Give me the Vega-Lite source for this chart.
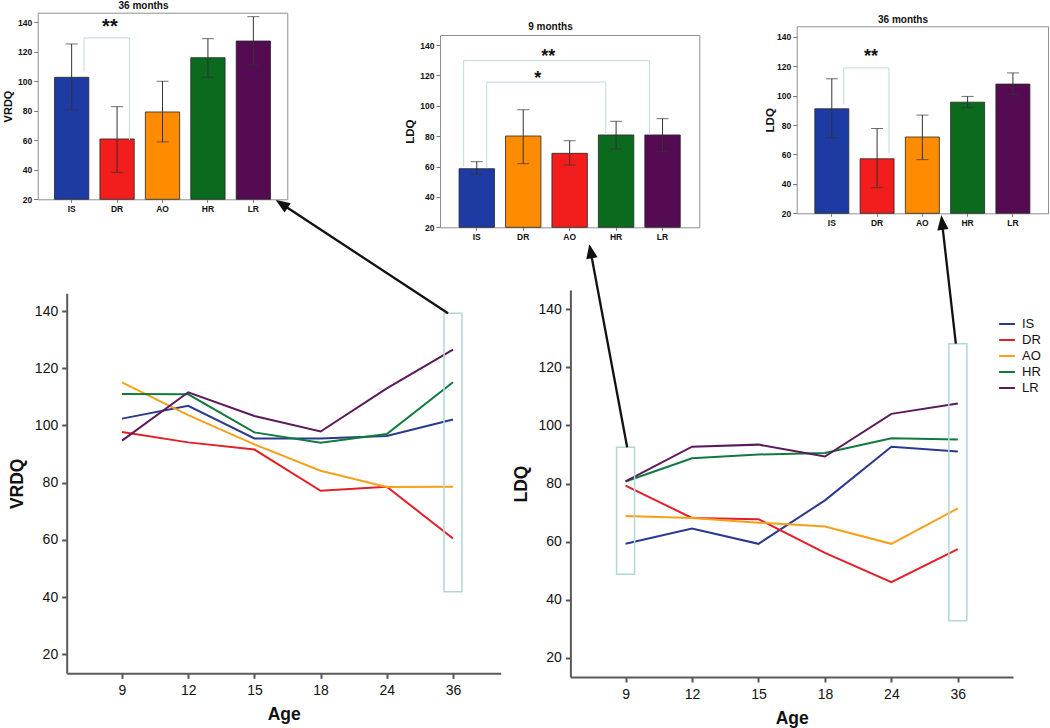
{
  "$schema": "https://vega.github.io/schema/vega-lite/v6.json",
  "width": 1050,
  "height": 728,
  "padding": 0,
  "autosize": {"type": "none"},
  "background": "white",
  "config": {"font": "Liberation Sans", "view": {"stroke": null}, "axis": {"grid": false}},
  "datasets": {
    "bars": [
      {"chart": "c1", "cat": "IS", "mean": 102.7, "lo": 80.6, "hi": 125.3},
      {"chart": "c1", "cat": "DR", "mean": 60.9, "lo": 38.3, "hi": 82.8},
      {"chart": "c1", "cat": "AO", "mean": 79.2, "lo": 58.9, "hi": 100.0},
      {"chart": "c1", "cat": "HR", "mean": 116.0, "lo": 102.7, "hi": 128.9},
      {"chart": "c1", "cat": "LR", "mean": 127.3, "lo": 111.1, "hi": 143.8},
      {"chart": "c2", "cat": "IS", "mean": 58.6, "lo": 54.9, "hi": 63.2},
      {"chart": "c2", "cat": "DR", "mean": 80.1, "lo": 61.9, "hi": 97.4},
      {"chart": "c2", "cat": "AO", "mean": 68.7, "lo": 61.0, "hi": 77.0},
      {"chart": "c2", "cat": "HR", "mean": 80.8, "lo": 71.5, "hi": 89.8},
      {"chart": "c2", "cat": "LR", "mean": 80.8, "lo": 69.8, "hi": 91.5},
      {"chart": "c3", "cat": "IS", "mean": 91.1, "lo": 71.4, "hi": 111.5},
      {"chart": "c3", "cat": "DR", "mean": 57.1, "lo": 37.4, "hi": 77.7},
      {"chart": "c3", "cat": "AO", "mean": 71.9, "lo": 56.5, "hi": 86.8},
      {"chart": "c3", "cat": "HR", "mean": 95.6, "lo": 91.8, "hi": 99.5},
      {"chart": "c3", "cat": "LR", "mean": 107.9, "lo": 100.8, "hi": 115.5}
    ],
    "brackets": [
      {"chart": "c1", "id": "s", "a": "IS", "b": "DR", "top": 129.4, "la": 106.6, "lb": 60.2},
      {"chart": "c2", "id": "dd", "a": "IS", "b": "LR", "top": 129.7, "la": 60.0, "lb": 81.0},
      {"chart": "c2", "id": "s", "a": "IS", "b": "HR", "top": 115.6, "la": 58.9, "lb": 80.8},
      {"chart": "c3", "id": "s", "a": "IS", "b": "DR", "top": 118.9, "la": 94.0, "lb": 60.8}
    ],
    "stars": [
      {"chart": "c1", "id": "dd", "cat": "DR", "y": 132.7, "label": "**"},
      {"chart": "c2", "id": "dd", "cat": "DR", "y": 128.8, "label": "**"},
      {"chart": "c2", "id": "s", "cat": "DR", "y": 114.6, "label": "*"},
      {"chart": "c3", "id": "dd", "cat": "DR", "y": 122.8, "label": "**"}
    ],
    "lines": [
      {"chart": "VRDQ", "group": "IS", "age": 9, "value": 102.4},
      {"chart": "VRDQ", "group": "IS", "age": 12, "value": 106.9},
      {"chart": "VRDQ", "group": "IS", "age": 15, "value": 95.5},
      {"chart": "VRDQ", "group": "IS", "age": 18, "value": 95.5},
      {"chart": "VRDQ", "group": "IS", "age": 24, "value": 96.3},
      {"chart": "VRDQ", "group": "IS", "age": 36, "value": 102.1},
      {"chart": "VRDQ", "group": "DR", "age": 9, "value": 97.7},
      {"chart": "VRDQ", "group": "DR", "age": 12, "value": 94.1},
      {"chart": "VRDQ", "group": "DR", "age": 15, "value": 91.6},
      {"chart": "VRDQ", "group": "DR", "age": 18, "value": 77.2},
      {"chart": "VRDQ", "group": "DR", "age": 24, "value": 78.6},
      {"chart": "VRDQ", "group": "DR", "age": 36, "value": 60.5},
      {"chart": "VRDQ", "group": "AO", "age": 9, "value": 115.1},
      {"chart": "VRDQ", "group": "AO", "age": 12, "value": 103.6},
      {"chart": "VRDQ", "group": "AO", "age": 15, "value": 93.4},
      {"chart": "VRDQ", "group": "AO", "age": 18, "value": 84.2},
      {"chart": "VRDQ", "group": "AO", "age": 24, "value": 78.5},
      {"chart": "VRDQ", "group": "AO", "age": 36, "value": 78.6},
      {"chart": "VRDQ", "group": "HR", "age": 9, "value": 111.0},
      {"chart": "VRDQ", "group": "HR", "age": 12, "value": 110.9},
      {"chart": "VRDQ", "group": "HR", "age": 15, "value": 97.6},
      {"chart": "VRDQ", "group": "HR", "age": 18, "value": 94.0},
      {"chart": "VRDQ", "group": "HR", "age": 24, "value": 97.0},
      {"chart": "VRDQ", "group": "HR", "age": 36, "value": 115.1},
      {"chart": "VRDQ", "group": "LR", "age": 9, "value": 94.7},
      {"chart": "VRDQ", "group": "LR", "age": 12, "value": 111.6},
      {"chart": "VRDQ", "group": "LR", "age": 15, "value": 103.3},
      {"chart": "VRDQ", "group": "LR", "age": 18, "value": 97.9},
      {"chart": "VRDQ", "group": "LR", "age": 24, "value": 113.0},
      {"chart": "VRDQ", "group": "LR", "age": 36, "value": 126.5},
      {"chart": "LDQ", "group": "IS", "age": 9, "value": 59.2},
      {"chart": "LDQ", "group": "IS", "age": 12, "value": 64.5},
      {"chart": "LDQ", "group": "IS", "age": 15, "value": 59.2},
      {"chart": "LDQ", "group": "IS", "age": 18, "value": 74.2},
      {"chart": "LDQ", "group": "IS", "age": 24, "value": 92.7},
      {"chart": "LDQ", "group": "IS", "age": 36, "value": 91.0},
      {"chart": "LDQ", "group": "DR", "age": 9, "value": 79.3},
      {"chart": "LDQ", "group": "DR", "age": 12, "value": 68.1},
      {"chart": "LDQ", "group": "DR", "age": 15, "value": 67.7},
      {"chart": "LDQ", "group": "DR", "age": 18, "value": 56.1},
      {"chart": "LDQ", "group": "DR", "age": 24, "value": 46.0},
      {"chart": "LDQ", "group": "DR", "age": 36, "value": 57.4},
      {"chart": "LDQ", "group": "AO", "age": 9, "value": 68.8},
      {"chart": "LDQ", "group": "AO", "age": 12, "value": 68.1},
      {"chart": "LDQ", "group": "AO", "age": 15, "value": 66.5},
      {"chart": "LDQ", "group": "AO", "age": 18, "value": 65.2},
      {"chart": "LDQ", "group": "AO", "age": 24, "value": 59.2},
      {"chart": "LDQ", "group": "AO", "age": 36, "value": 71.4},
      {"chart": "LDQ", "group": "HR", "age": 9, "value": 80.7},
      {"chart": "LDQ", "group": "HR", "age": 12, "value": 88.7},
      {"chart": "LDQ", "group": "HR", "age": 15, "value": 90.0},
      {"chart": "LDQ", "group": "HR", "age": 18, "value": 90.5},
      {"chart": "LDQ", "group": "HR", "age": 24, "value": 95.6},
      {"chart": "LDQ", "group": "HR", "age": 36, "value": 95.2},
      {"chart": "LDQ", "group": "LR", "age": 9, "value": 80.7},
      {"chart": "LDQ", "group": "LR", "age": 12, "value": 92.7},
      {"chart": "LDQ", "group": "LR", "age": 15, "value": 93.4},
      {"chart": "LDQ", "group": "LR", "age": 18, "value": 89.3},
      {"chart": "LDQ", "group": "LR", "age": 24, "value": 104.0},
      {"chart": "LDQ", "group": "LR", "age": 36, "value": 107.6}
    ],
    "boxes": [
      {"id": "L36", "age": 36, "lo": 41.9, "hi": 139.2},
      {"id": "R9", "age": 9, "lo": 48.7, "hi": 92.5},
      {"id": "R36", "age": 36, "lo": 32.7, "hi": 128.2}
    ]
  },
  "layer": [
    {
      "layer": [
        {
          "data": {"name": "bars"},
          "transform": [{"filter": "datum.chart == 'c1'"}],
          "mark": {"type": "bar", "stroke": "#262626", "strokeWidth": 0.8},
          "encoding": {
            "x": {"field": "cat", "type": "nominal", "scale": {"type": "band", "domain": ["IS", "DR", "AO", "HR", "LR"], "range": [37.7, 287.3], "paddingInner": 0.245, "paddingOuter": 0.37},
              "axis": {"orient": "bottom", "offset": -528.7, "title": null, "labelAngle": 0, "labelFontSize": 8.5, "labelFontWeight": "bold", "labelColor": "#111", "labelPadding": 2, "tickSize": 3, "tickColor": "#777", "domainColor": "#8f8f8f"}},
            "y": {"field": "mean", "type": "quantitative", "scale": {"domain": [20, 146.5], "range": [199.3, 12.7], "nice": false, "zero": false},
              "axis": {"orient": "left", "offset": -37.7, "values": [20, 40, 60, 80, 100, 120, 140], "title": "VRDQ", "titleFontSize": 11, "titleFontWeight": "bold", "titleColor": "#111", "titlePadding": 4, "labelFontSize": 8.5, "labelFontWeight": "bold", "labelColor": "#111", "labelPadding": 2, "tickSize": 4, "tickColor": "#777", "domainColor": "#8f8f8f"}},
            "y2": {"datum": 20},
            "color": {"field": "cat", "type": "nominal", "scale": {"domain": ["IS", "DR", "AO", "HR", "LR"], "range": ["#1d3ba3", "#f21d1d", "#ff8c00", "#0c6a1f", "#550b52"]}, "legend": null}
          }
        },
        {
          "data": {"name": "bars"},
          "transform": [{"filter": "datum.chart == 'c1'"}],
          "mark": {"type": "rule", "color": "#333", "strokeWidth": 1},
          "encoding": {
            "x": {"field": "cat", "type": "nominal", "axis": {"orient": "top", "offset": -12.7, "labels": false, "ticks": false, "domainColor": "#8f8f8f", "title": "36 months", "titleX": 143, "titleY": -7.7, "titleBaseline": "middle", "titleFontSize": 10, "titleFontWeight": "bold", "titleColor": "#111"}},
            "y": {"field": "lo", "type": "quantitative", "axis": {"orient": "right", "offset": -762.7, "labels": false, "ticks": false, "domainColor": "#8f8f8f", "title": null}},
            "y2": {"field": "hi"}
          }
        },
        {
          "data": {"name": "bars"},
          "transform": [{"filter": "datum.chart == 'c1'"}],
          "mark": {"type": "tick", "orient": "horizontal", "size": 12, "thickness": 1, "color": "#333"},
          "encoding": {"x": {"field": "cat", "type": "nominal", "axis": null}, "y": {"field": "lo", "type": "quantitative", "axis": null}}
        },
        {
          "data": {"name": "bars"},
          "transform": [{"filter": "datum.chart == 'c1'"}],
          "mark": {"type": "tick", "orient": "horizontal", "size": 12, "thickness": 1, "color": "#333"},
          "encoding": {"x": {"field": "cat", "type": "nominal", "axis": null}, "y": {"field": "hi", "type": "quantitative", "axis": null}}
        },
        {
          "data": {"name": "brackets"},
          "transform": [{"filter": "datum.chart == 'c1'"}],
          "mark": {"type": "rule", "color": "#bfdada", "strokeWidth": 1},
          "encoding": {"x": {"field": "a", "type": "nominal", "bandPosition": 0.86, "axis": null}, "x2": {"field": "b", "bandPosition": 0.86}, "y": {"field": "top", "type": "quantitative", "axis": null}}
        },
        {
          "data": {"name": "brackets"},
          "transform": [{"filter": "datum.chart == 'c1'"}],
          "mark": {"type": "rule", "color": "#bfdada", "strokeWidth": 1},
          "encoding": {"x": {"field": "a", "type": "nominal", "bandPosition": 0.86, "axis": null}, "y": {"field": "la", "type": "quantitative", "axis": null}, "y2": {"field": "top"}}
        },
        {
          "data": {"name": "brackets"},
          "transform": [{"filter": "datum.chart == 'c1'"}],
          "mark": {"type": "rule", "color": "#bfdada", "strokeWidth": 1},
          "encoding": {"x": {"field": "b", "type": "nominal", "bandPosition": 0.86, "axis": null}, "y": {"field": "lb", "type": "quantitative", "axis": null}, "y2": {"field": "top"}}
        },
        {
          "data": {"name": "stars"},
          "transform": [{"filter": "datum.chart == 'c1'"}],
          "mark": {"type": "text", "fontSize": 20, "fontWeight": "bold", "align": "center", "baseline": "alphabetic", "color": "#111"},
          "encoding": {"x": {"field": "cat", "type": "nominal", "bandPosition": 0.29, "axis": null}, "y": {"field": "y", "type": "quantitative", "axis": null}, "text": {"field": "label"}}
        }
      ],
      "resolve": {"axis": {"x": "independent", "y": "independent"}}
    },
    {
      "layer": [
        {
          "data": {"name": "bars"},
          "transform": [{"filter": "datum.chart == 'c2'"}],
          "mark": {"type": "bar", "stroke": "#262626", "strokeWidth": 0.8},
          "encoding": {
            "x": {"field": "cat", "type": "nominal", "scale": {"type": "band", "domain": ["IS", "DR", "AO", "HR", "LR"], "range": [440, 699.3], "paddingInner": 0.237, "paddingOuter": 0.41},
              "axis": {"orient": "bottom", "offset": -500.7, "title": null, "labelAngle": 0, "labelFontSize": 8.5, "labelFontWeight": "bold", "labelColor": "#111", "labelPadding": 2, "tickSize": 3, "tickColor": "#777", "domainColor": "#8f8f8f"}},
            "y": {"field": "mean", "type": "quantitative", "scale": {"domain": [20, 146.6], "range": [227.3, 35], "nice": false, "zero": false},
              "axis": {"orient": "left", "offset": -440, "values": [20, 40, 60, 80, 100, 120, 140], "title": "LDQ", "titleFontSize": 11.5, "titleFontWeight": "bold", "titleColor": "#111", "titlePadding": 4, "labelFontSize": 8.5, "labelFontWeight": "bold", "labelColor": "#111", "labelPadding": 2, "tickSize": 4, "tickColor": "#777", "domainColor": "#8f8f8f"}},
            "y2": {"datum": 20},
            "color": {"field": "cat", "type": "nominal", "scale": {"domain": ["IS", "DR", "AO", "HR", "LR"], "range": ["#1d3ba3", "#ff8c00", "#f21d1d", "#0c6a1f", "#550b52"]}, "legend": null}
          }
        },
        {
          "data": {"name": "bars"},
          "transform": [{"filter": "datum.chart == 'c2'"}],
          "mark": {"type": "rule", "color": "#333", "strokeWidth": 1},
          "encoding": {
            "x": {"field": "cat", "type": "nominal", "axis": {"orient": "top", "offset": -35, "labels": false, "ticks": false, "domainColor": "#8f8f8f", "title": "9 months", "titleX": 550, "titleY": -8.3, "titleBaseline": "middle", "titleFontSize": 10, "titleFontWeight": "bold", "titleColor": "#111"}},
            "y": {"field": "lo", "type": "quantitative", "axis": {"orient": "right", "offset": -350.7, "labels": false, "ticks": false, "domainColor": "#8f8f8f", "title": null}},
            "y2": {"field": "hi"}
          }
        },
        {
          "data": {"name": "bars"},
          "transform": [{"filter": "datum.chart == 'c2'"}],
          "mark": {"type": "tick", "orient": "horizontal", "size": 12, "thickness": 1, "color": "#333"},
          "encoding": {"x": {"field": "cat", "type": "nominal", "axis": null}, "y": {"field": "lo", "type": "quantitative", "axis": null}}
        },
        {
          "data": {"name": "bars"},
          "transform": [{"filter": "datum.chart == 'c2'"}],
          "mark": {"type": "tick", "orient": "horizontal", "size": 12, "thickness": 1, "color": "#333"},
          "encoding": {"x": {"field": "cat", "type": "nominal", "axis": null}, "y": {"field": "hi", "type": "quantitative", "axis": null}}
        },
        {
          "data": {"name": "brackets"},
          "transform": [{"filter": "datum.chart == 'c2' && datum.id == 'dd'"}],
          "mark": {"type": "rule", "color": "#bfdada", "strokeWidth": 1},
          "encoding": {"x": {"field": "a", "type": "nominal", "bandPosition": 0.13, "axis": null}, "x2": {"field": "b", "bandPosition": 0.13}, "y": {"field": "top", "type": "quantitative", "axis": null}}
        },
        {
          "data": {"name": "brackets"},
          "transform": [{"filter": "datum.chart == 'c2' && datum.id == 'dd'"}],
          "mark": {"type": "rule", "color": "#bfdada", "strokeWidth": 1},
          "encoding": {"x": {"field": "a", "type": "nominal", "bandPosition": 0.13, "axis": null}, "y": {"field": "la", "type": "quantitative", "axis": null}, "y2": {"field": "top"}}
        },
        {
          "data": {"name": "brackets"},
          "transform": [{"filter": "datum.chart == 'c2' && datum.id == 'dd'"}],
          "mark": {"type": "rule", "color": "#bfdada", "strokeWidth": 1},
          "encoding": {"x": {"field": "b", "type": "nominal", "bandPosition": 0.13, "axis": null}, "y": {"field": "lb", "type": "quantitative", "axis": null}, "y2": {"field": "top"}}
        },
        {
          "data": {"name": "brackets"},
          "transform": [{"filter": "datum.chart == 'c2' && datum.id == 's'"}],
          "mark": {"type": "rule", "color": "#bfdada", "strokeWidth": 1},
          "encoding": {"x": {"field": "a", "type": "nominal", "bandPosition": 0.78, "axis": null}, "x2": {"field": "b", "bandPosition": 0.21}, "y": {"field": "top", "type": "quantitative", "axis": null}}
        },
        {
          "data": {"name": "brackets"},
          "transform": [{"filter": "datum.chart == 'c2' && datum.id == 's'"}],
          "mark": {"type": "rule", "color": "#bfdada", "strokeWidth": 1},
          "encoding": {"x": {"field": "a", "type": "nominal", "bandPosition": 0.78, "axis": null}, "y": {"field": "la", "type": "quantitative", "axis": null}, "y2": {"field": "top"}}
        },
        {
          "data": {"name": "brackets"},
          "transform": [{"filter": "datum.chart == 'c2' && datum.id == 's'"}],
          "mark": {"type": "rule", "color": "#bfdada", "strokeWidth": 1},
          "encoding": {"x": {"field": "b", "type": "nominal", "bandPosition": 0.21, "axis": null}, "y": {"field": "lb", "type": "quantitative", "axis": null}, "y2": {"field": "top"}}
        },
        {
          "data": {"name": "stars"},
          "transform": [{"filter": "datum.chart == 'c2' && datum.id == 'dd'"}],
          "mark": {"type": "text", "fontSize": 18, "fontWeight": "bold", "align": "center", "baseline": "alphabetic", "color": "#111"},
          "encoding": {"x": {"field": "cat", "type": "nominal", "bandPosition": 1.21, "axis": null}, "y": {"field": "y", "type": "quantitative", "axis": null}, "text": {"field": "label"}}
        },
        {
          "data": {"name": "stars"},
          "transform": [{"filter": "datum.chart == 'c2' && datum.id == 's'"}],
          "mark": {"type": "text", "fontSize": 18, "fontWeight": "bold", "align": "center", "baseline": "alphabetic", "color": "#111"},
          "encoding": {"x": {"field": "cat", "type": "nominal", "bandPosition": 0.91, "axis": null}, "y": {"field": "y", "type": "quantitative", "axis": null}, "text": {"field": "label"}}
        }
      ],
      "resolve": {"axis": {"x": "independent", "y": "independent"}}
    },
    {
      "layer": [
        {
          "data": {"name": "bars"},
          "transform": [{"filter": "datum.chart == 'c3'"}],
          "mark": {"type": "bar", "stroke": "#262626", "strokeWidth": 0.8},
          "encoding": {
            "x": {"field": "cat", "type": "nominal", "scale": {"type": "band", "domain": ["IS", "DR", "AO", "HR", "LR"], "range": [796.7, 1048], "paddingInner": 0.249, "paddingOuter": 0.4},
              "axis": {"orient": "bottom", "offset": -514.7, "title": null, "labelAngle": 0, "labelFontSize": 8.5, "labelFontWeight": "bold", "labelColor": "#111", "labelPadding": 2, "tickSize": 3, "tickColor": "#777", "domainColor": "#8f8f8f"}},
            "y": {"field": "mean", "type": "quantitative", "scale": {"domain": [20, 147.2], "range": [213.3, 26.3], "nice": false, "zero": false},
              "axis": {"orient": "left", "offset": -796.7, "values": [20, 40, 60, 80, 100, 120, 140], "title": "LDQ", "titleFontSize": 11.5, "titleFontWeight": "bold", "titleColor": "#111", "titlePadding": 1, "labelFontSize": 8.5, "labelFontWeight": "bold", "labelColor": "#111", "labelPadding": 2, "tickSize": 4, "tickColor": "#777", "domainColor": "#8f8f8f"}},
            "y2": {"datum": 20},
            "color": {"field": "cat", "type": "nominal", "scale": {"domain": ["IS", "DR", "AO", "HR", "LR"], "range": ["#1d3ba3", "#f21d1d", "#ff8c00", "#0c6a1f", "#550b52"]}, "legend": null}
          }
        },
        {
          "data": {"name": "bars"},
          "transform": [{"filter": "datum.chart == 'c3'"}],
          "mark": {"type": "rule", "color": "#333", "strokeWidth": 1},
          "encoding": {
            "x": {"field": "cat", "type": "nominal", "axis": {"orient": "top", "offset": -26.3, "labels": false, "ticks": false, "domainColor": "#8f8f8f", "title": "36 months", "titleX": 902.5, "titleY": -7, "titleBaseline": "middle", "titleFontSize": 10, "titleFontWeight": "bold", "titleColor": "#111"}},
            "y": {"field": "lo", "type": "quantitative", "axis": {"orient": "right", "offset": -2, "labels": false, "ticks": false, "domainColor": "#8f8f8f", "title": null}},
            "y2": {"field": "hi"}
          }
        },
        {
          "data": {"name": "bars"},
          "transform": [{"filter": "datum.chart == 'c3'"}],
          "mark": {"type": "tick", "orient": "horizontal", "size": 12, "thickness": 1, "color": "#333"},
          "encoding": {"x": {"field": "cat", "type": "nominal", "axis": null}, "y": {"field": "lo", "type": "quantitative", "axis": null}}
        },
        {
          "data": {"name": "bars"},
          "transform": [{"filter": "datum.chart == 'c3'"}],
          "mark": {"type": "tick", "orient": "horizontal", "size": 12, "thickness": 1, "color": "#333"},
          "encoding": {"x": {"field": "cat", "type": "nominal", "axis": null}, "y": {"field": "hi", "type": "quantitative", "axis": null}}
        },
        {
          "data": {"name": "brackets"},
          "transform": [{"filter": "datum.chart == 'c3'"}],
          "mark": {"type": "rule", "color": "#bfdada", "strokeWidth": 1},
          "encoding": {"x": {"field": "a", "type": "nominal", "bandPosition": 0.85, "axis": null}, "x2": {"field": "b", "bandPosition": 0.85}, "y": {"field": "top", "type": "quantitative", "axis": null}}
        },
        {
          "data": {"name": "brackets"},
          "transform": [{"filter": "datum.chart == 'c3'"}],
          "mark": {"type": "rule", "color": "#bfdada", "strokeWidth": 1},
          "encoding": {"x": {"field": "a", "type": "nominal", "bandPosition": 0.85, "axis": null}, "y": {"field": "la", "type": "quantitative", "axis": null}, "y2": {"field": "top"}}
        },
        {
          "data": {"name": "brackets"},
          "transform": [{"filter": "datum.chart == 'c3'"}],
          "mark": {"type": "rule", "color": "#bfdada", "strokeWidth": 1},
          "encoding": {"x": {"field": "b", "type": "nominal", "bandPosition": 0.85, "axis": null}, "y": {"field": "lb", "type": "quantitative", "axis": null}, "y2": {"field": "top"}}
        },
        {
          "data": {"name": "stars"},
          "transform": [{"filter": "datum.chart == 'c3'"}],
          "mark": {"type": "text", "fontSize": 18, "fontWeight": "bold", "align": "center", "baseline": "alphabetic", "color": "#111"},
          "encoding": {"x": {"field": "cat", "type": "nominal", "bandPosition": 0.32, "axis": null}, "y": {"field": "y", "type": "quantitative", "axis": null}, "text": {"field": "label"}}
        }
      ],
      "resolve": {"axis": {"x": "independent", "y": "independent"}}
    },
    {
      "layer": [
        {
          "data": {"name": "lines"},
          "transform": [{"filter": "datum.chart == 'VRDQ'"}],
          "mark": {"type": "line", "strokeWidth": 2},
          "encoding": {
            "x": {"field": "age", "type": "ordinal", "scale": {"type": "point", "domain": [9, 12, 15, 18, 24, 36], "range": [66.7, 500.7], "padding": 0.778, "align": 0.537},
              "axis": {"orient": "bottom", "offset": -54.7, "title": "Age", "titleFontSize": 17.5, "titleFontWeight": "bold", "titleColor": "#111", "titlePadding": 8, "labelAngle": 0, "labelFontSize": 14, "labelColor": "#111", "labelPadding": 5, "tickSize": 5, "tickWidth": 2, "tickColor": "#555", "domainColor": "#5a5a5a", "domainWidth": 2}},
            "y": {"field": "value", "type": "quantitative", "scale": {"domain": [13.4, 146.2], "range": [673.3, 293.3], "nice": false, "zero": false},
              "axis": {"orient": "left", "offset": -66.7, "values": [20, 40, 60, 80, 100, 120, 140], "title": "VRDQ", "titleFontSize": 17.5, "titleFontWeight": "bold", "titleColor": "#111", "titlePadding": 8, "labelFontSize": 14, "labelColor": "#111", "labelPadding": 4, "tickSize": 5, "tickWidth": 2, "tickColor": "#555", "domainColor": "#5a5a5a", "domainWidth": 2}},
            "color": {"field": "group", "type": "nominal", "scale": {"domain": ["IS", "DR", "AO", "HR", "LR"], "range": ["#2a3990", "#e31f26", "#f6a01a", "#117a3e", "#5a1a5c"]}, "legend": null}
          }
        },
        {
          "data": {"name": "boxes"},
          "transform": [{"filter": "datum.id == 'L36'"}],
          "mark": {"type": "bar", "width": 18, "fill": "transparent", "stroke": "#b3d6d6", "strokeWidth": 1.5},
          "encoding": {"x": {"field": "age", "type": "ordinal", "axis": null}, "y": {"field": "lo", "type": "quantitative", "axis": null}, "y2": {"field": "hi"}}
        },
        {
          "data": {"name": "boxes"},
          "transform": [{"filter": "datum.id == 'L36'"}],
          "mark": {"type": "point", "shape": "M-5,0L-166.3,-106.1M-174.7,-111.7L-164.1,-109.4L-168.5,-102.8Z", "size": 4, "filled": true, "fill": "#111", "stroke": "#111", "strokeWidth": 2.3, "opacity": 1},
          "encoding": {"x": {"field": "age", "type": "ordinal", "axis": null}, "y": {"field": "hi", "type": "quantitative", "axis": null}}
        }
      ],
      "resolve": {"axis": {"x": "independent", "y": "independent"}}
    },
    {
      "layer": [
        {
          "data": {"name": "lines"},
          "transform": [{"filter": "datum.chart == 'LDQ'"}],
          "mark": {"type": "line", "strokeWidth": 2},
          "encoding": {
            "x": {"field": "age", "type": "ordinal", "scale": {"type": "point", "domain": [9, 12, 15, 18, 24, 36], "range": [570.4, 1013], "padding": 0.83, "align": 0.5},
              "axis": {"orient": "bottom", "offset": -51, "title": "Age", "titleFontSize": 17.5, "titleFontWeight": "bold", "titleColor": "#111", "titlePadding": 8, "labelAngle": 0, "labelFontSize": 14, "labelColor": "#111", "labelPadding": 5, "tickSize": 5, "tickWidth": 2, "tickColor": "#555", "domainColor": "#5a5a5a", "domainWidth": 2}},
            "y": {"field": "value", "type": "quantitative", "scale": {"domain": [13.3, 146.7], "range": [677, 290], "nice": false, "zero": false},
              "axis": {"orient": "left", "offset": -570.4, "values": [20, 40, 60, 80, 100, 120, 140], "title": "LDQ", "titleFontSize": 17.5, "titleFontWeight": "bold", "titleColor": "#111", "titlePadding": 8, "labelFontSize": 14, "labelColor": "#111", "labelPadding": 4, "tickSize": 5, "tickWidth": 2, "tickColor": "#555", "domainColor": "#5a5a5a", "domainWidth": 2}},
            "color": {"field": "group", "type": "nominal", "scale": {"domain": ["IS", "DR", "AO", "HR", "LR"], "range": ["#2a3990", "#e31f26", "#f6a01a", "#117a3e", "#5a1a5c"]},
              "legend": {"orient": "none", "legendX": 998, "legendY": 315, "title": null, "symbolType": "stroke", "symbolSize": 250, "symbolStrokeWidth": 2, "labelFontSize": 13, "labelColor": "#111", "labelOffset": 6, "rowPadding": 0, "padding": 0}}
          }
        },
        {
          "data": {"name": "boxes"},
          "transform": [{"filter": "datum.id != 'L36'"}],
          "mark": {"type": "bar", "width": 18, "fill": "transparent", "stroke": "#b3d6d6", "strokeWidth": 1.5},
          "encoding": {"x": {"field": "age", "type": "ordinal", "axis": null}, "y": {"field": "lo", "type": "quantitative", "axis": null}, "y2": {"field": "hi"}}
        },
        {
          "data": {"name": "boxes"},
          "transform": [{"filter": "datum.id == 'R9'"}],
          "mark": {"type": "point", "shape": "M1.6,0L-33.9,-190.2M-35.7,-200L-29.9,-190.9L-37.8,-189.5Z", "size": 4, "filled": true, "fill": "#111", "stroke": "#111", "strokeWidth": 2.3, "opacity": 1},
          "encoding": {"x": {"field": "age", "type": "ordinal", "axis": null}, "y": {"field": "hi", "type": "quantitative", "axis": null}}
        },
        {
          "data": {"name": "boxes"},
          "transform": [{"filter": "datum.id == 'R36'"}],
          "mark": {"type": "point", "shape": "M-2,0L-15.1,-115.1M-16.2,-125.4L-11.1,-115.5L-19,-114.6Z", "size": 4, "filled": true, "fill": "#111", "stroke": "#111", "strokeWidth": 2.3, "opacity": 1},
          "encoding": {"x": {"field": "age", "type": "ordinal", "axis": null}, "y": {"field": "hi", "type": "quantitative", "axis": null}}
        }
      ],
      "resolve": {"axis": {"x": "independent", "y": "independent"}}
    }
  ],
  "resolve": {
    "scale": {"x": "independent", "y": "independent", "color": "independent"},
    "axis": {"x": "independent", "y": "independent"},
    "legend": {"color": "independent"}
  }
}
